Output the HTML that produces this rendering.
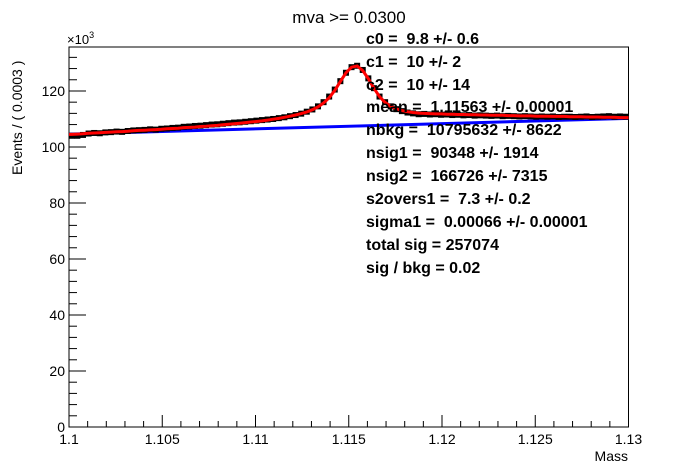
<!DOCTYPE html>
<html><head><meta charset="utf-8"><style>
body{margin:0;background:#fff}
svg{display:block;font-family:"Liberation Sans",sans-serif}
.pre text{white-space:pre}
</style></head><body>
<svg id="c" width="698" height="475" viewBox="0 0 698 475">
<rect width="698" height="475" fill="#fff"/>
<text x="349" y="23" font-size="17" text-anchor="middle">mva &gt;= 0.0300</text>
<g id="axes"></g>
<g id="marks"></g>
<g class="pre" font-size="16" font-weight="bold" xml:space="preserve">
<text x="366" y="44">c0 =  9.8 +/- 0.6</text>
<text x="366" y="67">c1 =  10 +/- 2</text>
<text x="366" y="90">c2 =  10 +/- 14</text>
<text x="366" y="112">mean =  1.11563 +/- 0.00001</text>
<text x="366" y="135">nbkg =  10795632 +/- 8622</text>
<text x="366" y="158">nsig1 =  90348 +/- 1914</text>
<text x="366" y="181">nsig2 =  166726 +/- 7315</text>
<text x="366" y="204">s2overs1 =  7.3 +/- 0.2</text>
<text x="366" y="227">sigma1 =  0.00066 +/- 0.00001</text>
<text x="366" y="250">total sig = 257074</text>
<text x="366" y="273">sig / bkg = 0.02</text>
</g>
<text transform="translate(22,175) rotate(-90)" font-size="14">Events / ( 0.0003 )</text>
<text x="628" y="461" font-size="14" text-anchor="end">Mass</text>
<text x="67" y="44" font-size="13">×10<tspan dy="-6" font-size="9">3</tspan></text>
</svg>
<script>
const xTicks=[1.1,1.105,1.11,1.115,1.12,1.125,1.13];
const xTickLabels=["1.1","1.105","1.11","1.115","1.12","1.125","1.13"];
const yTicks=[0,20,40,60,80,100,120];
const dataValues=[104.0,104.0,104.3,104.8,105.0,104.9,105.2,105.3,105.5,105.4,105.7,105.9,106.0,106.1,106.3,106.2,106.5,
106.6,106.8,106.9,107.2,107.3,107.5,107.6,107.8,108.0,108.1,108.3,108.5,108.7,108.8,109.0,109.2,109.4,
109.6,109.8,110.0,110.3,110.6,111.0,111.4,111.9,112.6,113.4,114.5,116.0,118.0,120.5,123.5,126.5,
128.5,129.0,127.5,124.5,121.0,118.0,116.0,114.5,113.5,112.8,112.3,112.0,111.7,
111.8,111.6,111.7,111.5,111.6,111.4,111.5,111.3,111.4,111.2,111.3,111.2,111.1,111.2,111.0,111.1,111.0,110.9,111.0,110.9,110.8,110.9,110.8,110.9,110.7,110.8,110.8,110.7,110.8,110.9,110.7,110.8,110.9,111.0,110.8,110.9,110.8];
const fitValues=[104.5,104.6,104.7,104.9,105.0,105.1,105.2,105.3,105.4,105.5,105.6,105.8,105.9,106.0,106.1,106.2,106.3,
106.5,106.6,106.7,106.9,107.0,107.1,107.3,107.4,107.6,107.7,107.9,108.1,108.3,108.5,108.7,108.9,109.1,
109.3,109.6,109.9,110.2,110.6,111.0,111.4,111.9,112.5,113.3,114.3,115.7,117.6,120.2,123.4,126.5,
128.5,128.9,127.3,124.4,121.0,118.0,115.9,114.5,113.6,113.0,112.6,112.3,112.1,
112.0,111.9,111.8,111.8,111.7,111.7,111.6,111.6,111.5,111.5,111.4,111.4,111.3,111.3,111.3,111.2,111.2,111.1,111.1,111.1,111.0,111.0,111.0,110.9,110.9,110.9,110.8,110.8,110.8,110.7,110.7,110.7,110.6,110.6,110.6,110.5,110.5];
const bkgX=[1.1,1.13];
const bkgValues=[104.6,110.2];
const xMin=1.1,xMax=1.13,binW=0.0003,yMax=135.7;
const L=69,R=628.5,T=47,B=427;
const sx=v=>L+(v-xMin)/(xMax-xMin)*(R-L);
const sy=v=>B-v/yMax*(B-T);
const NS="http://www.w3.org/2000/svg";
function mk(tag,attrs,parent){const e=document.createElementNS(NS,tag);for(const k in attrs)e.setAttribute(k,attrs[k]);parent.appendChild(e);return e;}
const axes=document.getElementById('axes'),marks=document.getElementById('marks');
const frame=mk('rect',{x:L,y:T,width:R-L,height:B-T,fill:'none',stroke:'#000','stroke-width':1},axes);


for(let i=0;i<=30;i++){const v=xMin+i*0.001;const x=sx(v);const major=i%5===0;
 const t=mk('line',{x1:x,x2:x,y1:B,y2:B-(major?12:6),stroke:'#000'},axes);
 
 }
xTicks.forEach((v,i)=>{const t=mk('text',{x:sx(v),y:B+17,'font-size':14,'text-anchor':'middle'},axes);t.textContent=xTickLabels[i];
 
 });
for(let v=0;v<=yMax;v+=4){const y=sy(v);const major=v%20===0;
 const t=mk('line',{x1:L,x2:L+(major?17:8),y1:y,y2:y,stroke:'#000'},axes);
 
 }
yTicks.forEach(v=>{const t=mk('text',{x:L-4,y:sy(v)+5,'font-size':14,'text-anchor':'end'},axes);t.textContent=String(v);
 
 });
const bl=mk('line',{x1:sx(bkgX[0]),y1:sy(bkgValues[0]),x2:sx(bkgX[1]),y2:sy(bkgValues[1]),stroke:'#0000ff','stroke-width':3},marks);


const dg=mk('g',{},marks);


dataValues.forEach((v,i)=>{const c=xMin+(i+0.5)*binW;const x=sx(c),y=sy(v);const err=Math.sqrt(v*1000)/1000;
 const e=mk('line',{x1:x,x2:x,y1:sy(v+err),y2:sy(v-err),stroke:'#000','stroke-width':1},dg);
 
 
 const h=mk('line',{x1:sx(c-binW/2),x2:sx(c+binW/2),y1:y,y2:y,stroke:'#000','stroke-width':1.5},dg);
 
 
 const p=mk('rect',{x:x-3,y:y-3,width:6,height:6,fill:'#000'},dg);
 
 });
const pts=fitValues.map((v,i)=>sx(xMin+(i+0.5)*binW).toFixed(1)+','+sy(v).toFixed(1));
pts.unshift(sx(xMin)+','+sy(fitValues[0]).toFixed(1));pts.push(sx(xMax)+','+sy(fitValues[fitValues.length-1]).toFixed(1));
const fl=mk('polyline',{points:pts.join(' '),fill:'none',stroke:'#ff0000','stroke-width':3},marks);


</script>
</body></html>
